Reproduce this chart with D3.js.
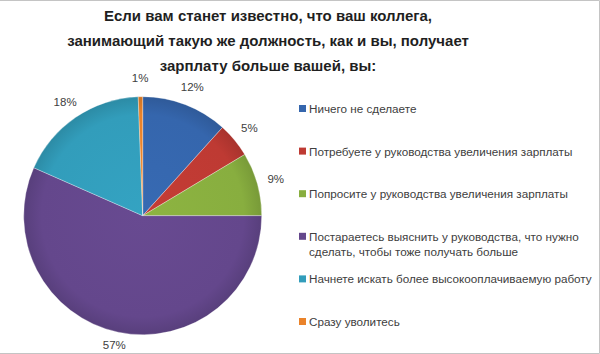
<!DOCTYPE html>
<html lang="ru">
    <head>
        <meta charset="utf-8">
        <title>Зарплата коллеги</title>
        <script src="https://d3js.org/d3.v7.min.js"></script>
        <style type="text/css">
          body { margin: 0; background: #fff; }
          svg { width: 600px; height: 354px; display: block; }
          .title { font-family: "Liberation Sans", Arial, sans-serif; font-weight: bold; font-size: 15px; fill: #1f1f1f; }
          .legend { font-family: "Liberation Sans", Arial, sans-serif; font-size: 11.7px; fill: #404040; }
          .pct { font-family: "Liberation Sans", Arial, sans-serif; font-size: 11.5px; fill: #404040; }
        </style>
    </head>
    <body>
        <svg></svg>
        <script type="text/javascript">

        // answers, in drawing order (clockwise from 12 o'clock)
        const categories = [
          "Ничего не сделаете",
          "Потребуете у руководства увеличения зарплаты",
          "Попросите у руководства увеличения зарплаты",
          "Постараетесь выяснить у руководства, что нужно|сделать, чтобы тоже получать больше",
          "Начнете искать более высокооплачиваемую работу",
          "Сразу уволитесь"
        ];
        // shares in %
        const values = [11.7, 4.7, 8.6, 56.6, 17.8, 0.6];
        const colors = ["#3566ad", "#be3a33", "#88ae3f", "#64478c", "#329dbb", "#ea832a"];
        const titleLines = [
          "Если вам станет известно, что ваш коллега,",
          "занимающий такую же должность, как и вы, получает",
          "зарплату больше вашей, вы:"
        ];

        const svg = d3.select("svg");
        const W = 600, H = 354;

        // frame
        svg.append("path")
           .attr("d", `M0,0.5 H${W - 0.5} V${H - 0.5} H0`)
           .attr("fill", "none")
           .attr("stroke", "#c4c4c4");

        // title
        svg.append("text")
           .attr("class", "title")
           .attr("text-anchor", "middle")
           .selectAll("tspan")
           .data(titleLines)
           .enter()
           .append("tspan")
           .attr("x", 268)
           .attr("y", (d, i) => 21 + i * 25)
           .text(d => d);

        // gradients, a bit darker at the rim
        const defs = svg.append("defs");
        const grads = defs.selectAll("radialGradient")
           .data(colors)
           .enter()
           .append("radialGradient")
           .attr("id", (d, i) => "g" + i)
           .attr("gradientUnits", "userSpaceOnUse")
           .attr("cx", 0).attr("cy", 0).attr("r", 119);
        grads.append("stop").attr("offset", "0%").attr("stop-color", d => d3.color(d).brighter(0.1));
        grads.append("stop").attr("offset", "85%").attr("stop-color", d => d);
        grads.append("stop").attr("offset", "100%").attr("stop-color", d => d3.color(d).darker(0.35));

        const cx = 142.7, cy = 215.7, r = 119;
        const pie = d3.pie().sort(null);
        const arcs = pie(values);
        const arc = d3.arc().innerRadius(0).outerRadius(r);
        const labelArc = d3.arc().innerRadius(r + 19).outerRadius(r + 19);

        const g = svg.append("g").attr("transform", `translate(${cx},${cy})`);

        g.selectAll("path")
         .data(arcs)
         .enter()
         .append("path")
         .attr("d", arc)
         .attr("fill", (d, i) => `url(#g${i})`)
         .attr("stroke", "#fff")
         .attr("stroke-width", 0.3);

        g.selectAll("text")
         .data(arcs)
         .enter()
         .append("text")
         .attr("class", "pct")
         .attr("text-anchor", "middle")
         .attr("dy", "0.35em")
         .attr("transform", d => {
            const [x, y] = labelArc.centroid(d);
            // keep the bottom label inside the frame
            return `translate(${x},${Math.min(y, H - 9 - cy)})`;
         })
         .text(d => Math.round(d.data) + "%");

        // legend
        const ly = d3.scaleLinear().domain([0, 5]).range([109, 322]);
        const lg = svg.selectAll("g.leg")
           .data(categories)
           .enter()
           .append("g")
           .attr("class", "leg")
           .attr("transform", (d, i) => `translate(299,${ly(i)})`);

        lg.append("rect")
          .attr("x", 0).attr("y", -4)
          .attr("width", 7).attr("height", 7)
          .attr("fill", (d, i) => colors[i]);

        lg.append("text")
          .attr("class", "legend")
          .selectAll("tspan")
          .data(d => d.split("|"))
          .enter()
          .append("tspan")
          .attr("x", 10)
          .attr("y", (d, i) => 4 + i * 15)
          .text(d => d);
        </script>
    </body>
</html>
